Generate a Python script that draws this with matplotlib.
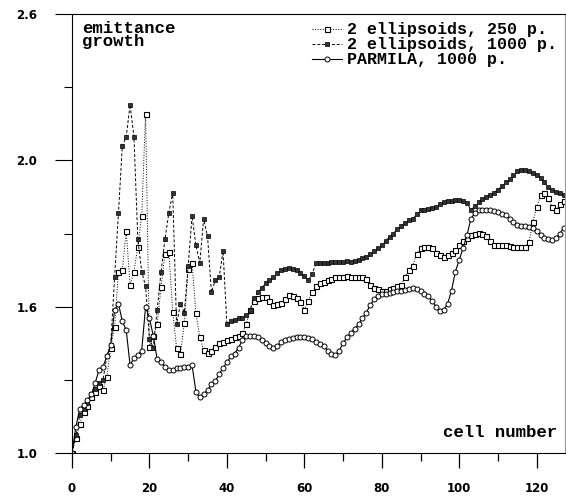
import matplotlib
matplotlib.use('Agg')
import matplotlib.pyplot as plt
from matplotlib.ticker import FixedLocator, FixedFormatter, MultipleLocator

# cell number 0..127
cells = list(range(128))

# 2 ellipsoids, 250 particles
ell_250 = [
    1.00, 1.05, 1.10, 1.14, 1.16, 1.19, 1.21, 1.23, 1.215, 1.26,
    1.36, 1.43, 1.62, 1.625, 1.76, 1.574, 1.62, 1.705, 1.81, 2.16,
    1.363, 1.40, 1.44, 1.568, 1.68, 1.688, 1.483, 1.36, 1.34, 1.443,
    1.63, 1.65, 1.477, 1.397, 1.352, 1.341, 1.35, 1.363, 1.375, 1.38,
    1.385, 1.39, 1.395, 1.40, 1.41, 1.44, 1.49, 1.52, 1.528, 1.532,
    1.534, 1.52, 1.506, 1.508, 1.511, 1.525, 1.54, 1.535, 1.528, 1.515,
    1.49, 1.52, 1.55, 1.57, 1.58, 1.585, 1.59, 1.595, 1.60, 1.60,
    1.60, 1.605, 1.60, 1.60, 1.60, 1.60, 1.595, 1.575, 1.565, 1.56,
    1.555, 1.555, 1.56, 1.565, 1.57, 1.575, 1.60, 1.625, 1.64, 1.68,
    1.70, 1.705, 1.705, 1.70, 1.685, 1.675, 1.67, 1.675, 1.685, 1.695,
    1.71, 1.725, 1.735, 1.745, 1.75, 1.752, 1.748, 1.74, 1.725, 1.712,
    1.71, 1.71, 1.71, 1.708, 1.705, 1.705, 1.703, 1.705, 1.72, 1.79,
    1.84, 1.88, 1.89, 1.87, 1.84, 1.83, 1.85, 1.86,
]

# 2 ellipsoids, 1000 particles
ell_1000 = [
    1.00, 1.06, 1.13, 1.15, 1.17, 1.20, 1.22, 1.24, 1.25, 1.33,
    1.37, 1.60, 1.82, 2.05, 2.08, 2.19, 2.08, 1.73, 1.62, 1.57,
    1.39, 1.36, 1.49, 1.62, 1.73, 1.82, 1.89, 1.44, 1.51, 1.48,
    1.64, 1.81, 1.71, 1.65, 1.80, 1.74, 1.55, 1.59, 1.60, 1.69,
    1.44, 1.45, 1.455, 1.46, 1.46, 1.47, 1.49, 1.53, 1.55, 1.563,
    1.58, 1.59, 1.60, 1.615, 1.625, 1.63, 1.632, 1.628, 1.625, 1.615,
    1.605, 1.59, 1.61, 1.65, 1.65, 1.648, 1.65, 1.652, 1.654, 1.654,
    1.652, 1.655, 1.654, 1.657, 1.66, 1.665, 1.671, 1.68, 1.69, 1.70,
    1.712, 1.725, 1.739, 1.75, 1.765, 1.775, 1.785, 1.795, 1.80, 1.815,
    1.83, 1.832, 1.835, 1.836, 1.84, 1.85, 1.856, 1.86, 1.862, 1.864,
    1.865, 1.862, 1.855, 1.83, 1.845, 1.859, 1.868, 1.876, 1.882, 1.89,
    1.90, 1.912, 1.925, 1.935, 1.95, 1.962, 1.966, 1.967, 1.963, 1.957,
    1.95, 1.938, 1.925, 1.91, 1.90, 1.893, 1.887, 1.88,
]

# PARMILA, 1000 particles
parmila = [
    1.00, 1.09, 1.15, 1.165, 1.18, 1.20, 1.24, 1.285, 1.295, 1.33,
    1.37, 1.49, 1.51, 1.45, 1.42, 1.30, 1.325, 1.335, 1.35, 1.50,
    1.46, 1.40, 1.32, 1.31, 1.295, 1.285, 1.285, 1.29, 1.29, 1.295,
    1.295, 1.30, 1.21, 1.19, 1.20, 1.215, 1.235, 1.245, 1.27, 1.29,
    1.31, 1.33, 1.34, 1.36, 1.385, 1.40, 1.40, 1.40, 1.395, 1.385,
    1.375, 1.365, 1.358, 1.365, 1.378, 1.386, 1.39, 1.393, 1.395, 1.396,
    1.395, 1.392, 1.388, 1.38, 1.372, 1.365, 1.35, 1.337, 1.335, 1.35,
    1.375, 1.395, 1.41, 1.425, 1.44, 1.46, 1.48, 1.505, 1.525, 1.538,
    1.543, 1.545, 1.546, 1.549, 1.552, 1.555, 1.558, 1.561, 1.563, 1.56,
    1.553, 1.545, 1.535, 1.52, 1.50, 1.485, 1.49, 1.51, 1.555, 1.62,
    1.66, 1.70, 1.745, 1.80, 1.82, 1.83, 1.832, 1.832, 1.83, 1.828,
    1.825, 1.818, 1.812, 1.80, 1.79, 1.78, 1.776, 1.774, 1.773, 1.77,
    1.76, 1.745, 1.735, 1.73, 1.728, 1.735, 1.75, 1.77,
]

labels = ['2 ellipsoids, 250 p.', '2 ellipsoids, 1000 p.', 'PARMILA, 1000 p.']
ytick_vals = [1.0, 1.5, 2.0, 2.5]
ytick_text = ['1.0', '1.6', '2.0', '2.6']
xtick_vals = [0, 20, 40, 60, 80, 100, 120]

fig = plt.figure(figsize=(5.66, 4.97), dpi=100)
ax = fig.add_axes([0.1272, 0.0885, 0.871, 0.8833])

ax.plot(cells, ell_250, ls=':', lw=0.7, color='black', marker='s', ms=3.6,
        mfc='white', mec='black', mew=0.8, label=labels[0])
ax.plot(cells, ell_1000, ls=(0, (3, 2)), lw=0.7, color='black', marker='s', ms=3.2,
        mfc='0.2', mec='black', mew=0.5, label=labels[1])
ax.plot(cells, parmila, ls='-', lw=0.8, color='black', marker='o', ms=3.6,
        mfc='white', mec='black', mew=0.7, label=labels[2])

ax.set_xlim(0, 127.3)
ax.set_ylim(1.0, 2.5)

ax.xaxis.set_major_locator(FixedLocator(xtick_vals))
ax.xaxis.set_minor_locator(MultipleLocator(10))
ax.yaxis.set_major_locator(FixedLocator(ytick_vals))
ax.yaxis.set_major_formatter(FixedFormatter(ytick_text))
ax.yaxis.set_minor_locator(MultipleLocator(0.25))

ax.tick_params(axis='x', which='major', direction='out', length=11, width=0.9, pad=10)
ax.tick_params(axis='x', which='minor', direction='out', length=6, width=0.9)
ax.tick_params(axis='y', which='major', direction='out', length=12, width=0.8, pad=13)
ax.tick_params(axis='y', which='minor', direction='out', length=6, width=0.8)
ax.tick_params(top=False, right=False)
for lab in ax.get_xticklabels() + ax.get_yticklabels():
    lab.set_fontweight('bold')
    lab.set_fontsize(8.5)

for s in ax.spines.values():
    s.set_linewidth(0.8)
ax.spines['right'].set_color('0.6')

mono = ['Liberation Mono', 'DejaVu Sans Mono']
ax.text(0.02, 0.985, 'emittance\ngrowth', transform=ax.transAxes, ha='left', va='top',
        family=mono, fontweight='bold', fontsize=12.5, linespacing=0.85)
ax.text(0.985, 0.03, 'cell number', transform=ax.transAxes, ha='right', va='bottom',
        family=mono, fontweight='bold', fontsize=12.5)

ax.legend(loc='upper right', bbox_to_anchor=(1.0, 1.0), frameon=False, numpoints=1,
          handlelength=1.8, handletextpad=0.3, labelspacing=0.0, borderaxespad=0.1,
          prop={'family': mono, 'weight': 'bold', 'size': 12})

fig.savefig('out.png', dpi=100)
